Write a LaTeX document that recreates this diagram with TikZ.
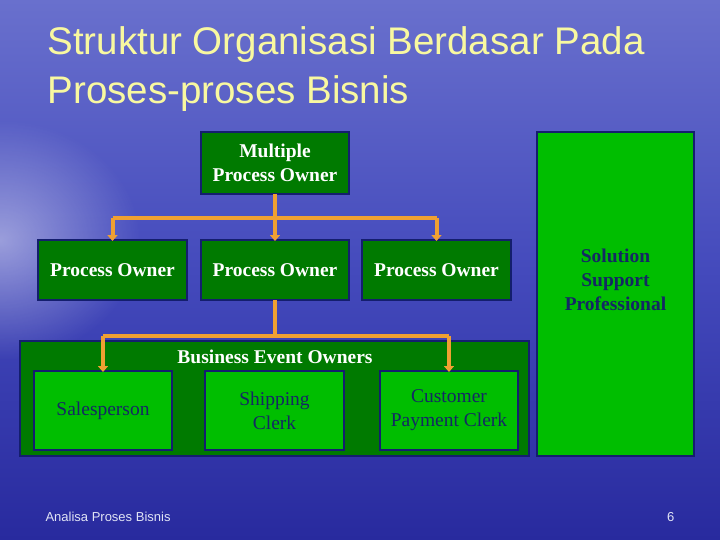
\documentclass[tikz,border=0pt]{standalone}
\usepackage{fontspec}
\setmainfont{Liberation Serif}
\newfontfamily\titlefont{Liberation Sans}
\usetikzlibrary{arrows.meta,calc,fadings}
\tikzfading[name=glowfade, inner color=transparent!0, outer color=transparent!100]
\definecolor{bgtop}{RGB}{105,112,205}
\definecolor{bgmid}{RGB}{68,74,188}
\definecolor{bgbot}{RGB}{40,42,158}
\definecolor{darkgr}{RGB}{0,122,0}
\definecolor{brightgr}{RGB}{0,190,0}
\definecolor{navyb}{RGB}{20,30,110}
\definecolor{navyt}{RGB}{20,40,100}
\definecolor{orangec}{RGB}{240,160,50}
\definecolor{titlec}{RGB}{248,248,160}
\definecolor{footc}{RGB}{225,228,245}
\tikzset{
  darkbox/.style={draw=navyb, line width=2pt, fill=darkgr, text=white, font=\fontsize{19.5}{24}\selectfont\bfseries, align=center, inner sep=0pt, outer sep=0pt},
  brightbox/.style={draw=navyb, line width=2pt, fill=brightgr, text=navyt, font=\fontsize{19.5}{24}\selectfont, align=center, inner sep=0pt, outer sep=0pt},
  conn/.style={draw=orangec, line width=4pt},
  arr/.style={draw=orangec, line width=4pt, -{Triangle[width=10pt,length=6pt]}, shorten >=-1pt},
  titletext/.style={anchor=base west, text=titlec, font=\titlefont\fontsize{38.5}{46}\selectfont},
}
\begin{document}
\begin{tikzpicture}[x=1pt,y=-1pt]
\useasboundingbox (0,0) rectangle (720,540);
\shade[top color=bgtop, bottom color=bgbot, middle color=bgmid] (0,0) rectangle (720,540);
\fill[white, opacity=0.45, path fading=glowfade] (0,240) ellipse [x radius=140, y radius=120];
% title
\node[titletext] (t1) at (44,55) {Struktur Organisasi Berdasar Pada};
\node[titletext] (t2) at (44,104) {Proses-proses Bisnis};
% top level
\node[darkbox, minimum width=148pt, minimum height=62pt] (mpo) at (275,163) {Multiple\\Process Owner};
\node[darkbox, minimum width=149pt, minimum height=60pt] (po1) at (112.5,270) {Process Owner};
\node[darkbox, minimum width=148pt, minimum height=60pt] (po2) at (275,270) {Process Owner};
\node[darkbox, minimum width=149pt, minimum height=60pt] (po3) at (436.5,270) {Process Owner};
% solution support
\node[brightbox, minimum width=157pt, minimum height=324pt] (ssp) at (615.5,294) {};
\node[text=navyt, font=\fontsize{19.5}{24}\selectfont\bfseries, align=center, inner sep=0pt] (sspt) at ($(ssp.center)+(0,-14)$) {Solution\\Support\\Professional};
% business event owners
\node[darkbox, minimum width=509pt, minimum height=115pt] (beo) at (274.5,398.5) {};
\node[text=white, font=\fontsize{19.5}{24}\selectfont\bfseries, inner sep=0pt] (beol) at (275,357) {Business Event Owners};
\node[brightbox, minimum width=138pt, minimum height=79pt] (sp) at (103,410.5) {Salesperson};
\node[brightbox, minimum width=139pt, minimum height=79pt] (sc) at (274.5,410.5) {Shipping\\Clerk};
\node[brightbox, minimum width=138pt, minimum height=79pt] (cpc) at (449,410.5) {Customer\\Payment Clerk};
% connectors
\coordinate (j1) at ($(mpo.south)+(0,24)$);
\draw[conn] (mpo.south) -- (j1);
\draw[conn] (j1 -| po1.north) -- (j1 -| po3.north);
\draw[arr] (j1 -| po1.north) -- (po1.north);
\draw[arr] (j1) -- (po2.north);
\draw[arr] (j1 -| po3.north) -- (po3.north);
\coordinate (j2) at ($(po2.south)+(0,36)$);
\draw[conn] (po2.south) -- (j2);
\draw[conn] (j2 -| sp.north) -- (j2 -| cpc.north);
\draw[arr] (j2 -| sp.north) -- (sp.north);
\draw[arr] (j2 -| cpc.north) -- (cpc.north);
% footer
\node[anchor=west, text=footc, font=\titlefont\fontsize{13}{15}\selectfont] (ft) at (42,517) {Analisa Proses Bisnis};
\node[anchor=east, text=footc, font=\titlefont\fontsize{13}{15}\selectfont] (pg) at (678,517) {6};
\end{tikzpicture}
\end{document}
